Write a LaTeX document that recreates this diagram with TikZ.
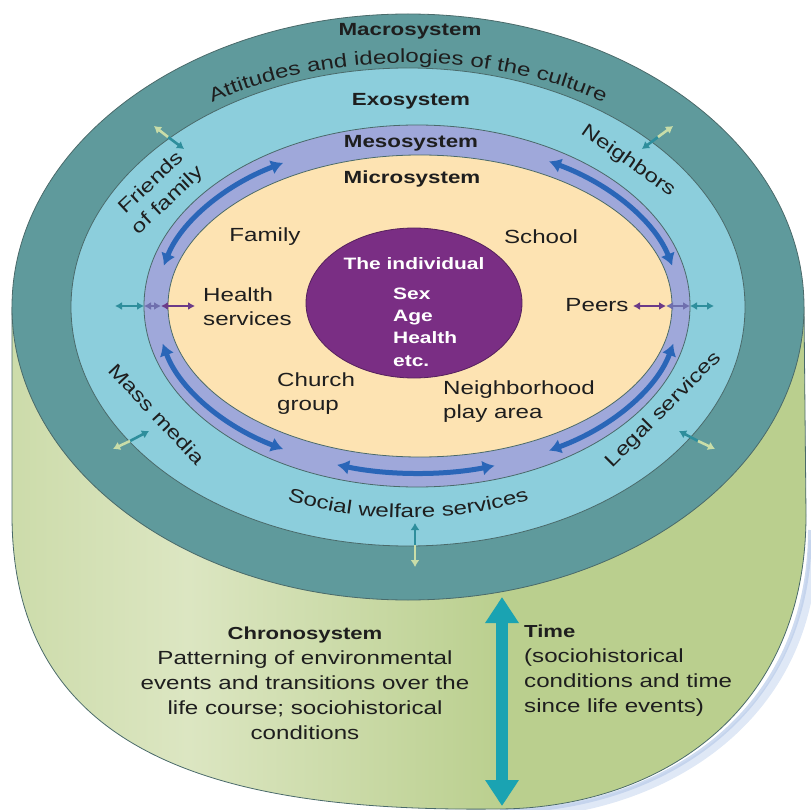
\documentclass[tikz,border=0pt]{standalone}
\usepackage{fontspec}
\setmainfont{Liberation Sans}[FakeStretch=1.27]
\usetikzlibrary{arrows.meta,decorations.text}
\definecolor{macroC}{HTML}{5F9A9C}
\definecolor{exoC}{HTML}{8CCEDC}
\definecolor{mesoC}{HTML}{9FA8DA}
\definecolor{microC}{HTML}{FDE3B2}
\definecolor{indivC}{HTML}{7A2E84}
\definecolor{arrowC}{HTML}{2A66B8}
\definecolor{timeC}{HTML}{1AA3B2}
\definecolor{edgeC}{HTML}{4A6A6A}
\definecolor{txtC}{HTML}{1E1E1E}
\definecolor{tealA}{HTML}{2E8E9C}
\definecolor{paleA}{HTML}{C9DDA8}
\definecolor{purpA}{HTML}{6B3A88}
\definecolor{lavA}{HTML}{6F6FAE}
\definecolor{gA}{HTML}{A3BC74}
\definecolor{gB}{HTML}{DCE6C2}
\definecolor{gC}{HTML}{BACF8E}
\definecolor{gD}{HTML}{A0BC68}
\definecolor{shadowC}{HTML}{B9CCEA}
\pgfdeclarehorizontalshading{cylshade}{100bp}{color(0bp)=(gA); color(12bp)=(gC); color(36bp)=(gB); color(56bp)=(gC); color(92bp)=(gC); color(100bp)=(gD)}
\tikzset{
  ring/.style={draw=edgeC, line width=0.8pt},
  lbl/.style={text=txtC, font=\fontsize{19}{24}\selectfont, inner sep=0pt},
  sys/.style={text=txtC, font=\bfseries\fontsize{17.6}{22}\selectfont, inner sep=0pt},
  chron/.style={text=txtC, font=\fontsize{19}{25}\selectfont, inner sep=0pt},
  indiv/.style={text=white, font=\bfseries\fontsize{16.5}{22.3}\selectfont, inner sep=0pt},
  mesoarrow/.style={draw=arrowC, line width=5pt, {Latex[length=12pt,width=15pt]}-{Latex[length=12pt,width=15pt]}},
  tinyarr/.style={line width=2.6pt, -{Latex[length=7pt,width=9pt]}},
  tinydbl/.style={line width=2.4pt, {Latex[length=7pt,width=8pt]}-{Latex[length=7pt,width=8pt]}},
  timearrow/.style={draw=timeC, line width=12pt, {Triangle[length=26pt,width=32pt]}-{Triangle[length=26pt,width=32pt]}}
}
\begin{document}
\begin{tikzpicture}[x=1pt,y=-1pt]
\useasboundingbox (0,0) rectangle (811,810);
\coordinate (oc) at (408,307);
\coordinate (mc) at (418,306);
% soft shadow at the lower right
\draw[shadowC, line width=9pt, opacity=0.45] (505,814) .. controls (655,814) and (813,724) .. (813,540);
\draw[shadowC, line width=4pt, opacity=0.7] (500,811) .. controls (652,811) and (810,722) .. (810,530);
% cylinder side
\shade[shading=cylshade] (12,307) -- (12,515) .. controls (12,760) and (230,812) .. (497,809) .. controls (650,809) and (806,720) .. (806,515) -- (804,307) -- cycle;
\draw[edgeC, line width=0.8pt] (12,307) -- (12,515) .. controls (12,760) and (230,812) .. (497,809) .. controls (650,809) and (806,720) .. (806,515) -- (804,307);
% rings
\draw[ring, fill=macroC] (oc) ellipse [x radius=396, y radius=293];
\draw[ring, fill=exoC] (oc) ellipse [x radius=337, y radius=239];
\draw[ring, fill=mesoC] (417,306) ellipse [x radius=273, y radius=181];
\draw[ring, fill=microC] (420,306) ellipse [x radius=252, y radius=151];
\draw[ring, draw=indivC!70!black, fill=indivC] (414,303) ellipse [x radius=108, y radius=75];
% meso arrows
\draw[mesoarrow] ([shift={(-121:262 and 167)}]mc) arc[start angle=-121, end angle=-166, x radius=262, y radius=167];
\draw[mesoarrow] ([shift={(-60:262 and 167)}]mc) arc[start angle=-60, end angle=-14, x radius=262, y radius=167];
\draw[mesoarrow] ([shift={(167:262 and 167)}]mc) arc[start angle=167, end angle=121, x radius=262, y radius=167];
\draw[mesoarrow] ([shift={(13:262 and 167)}]mc) arc[start angle=13, end angle=60, x radius=262, y radius=167];
\draw[mesoarrow] ([shift={(108:262 and 167)}]mc) arc[start angle=108, end angle=73, x radius=262, y radius=167];
% horizontal small arrows (left)
\coordinate (hl1) at (115,306); \coordinate (hl2) at (144,306);
\coordinate (hl3) at (161,306); \coordinate (hl4) at (195,306);
\draw[tinydbl, tealA] (hl1) -- (hl2);
\draw[tinydbl, lavA] (hl2) -- (hl3);
\draw[tinydbl, purpA] (hl3) -- (hl4);
% horizontal small arrows (right)
\coordinate (hr1) at (633,306); \coordinate (hr2) at (666,306);
\coordinate (hr3) at (690,306); \coordinate (hr4) at (714,306);
\draw[tinydbl, purpA] (hr1) -- (hr2);
\draw[tinydbl, lavA] (hr2) -- (hr3);
\draw[tinydbl, tealA] (hr3) -- (hr4);
% crossing arrows exo/macro
\coordinate (fo) at (154,126); \coordinate (fm) at (168,137); \coordinate (fi) at (184,149);
\draw[tinyarr, tealA] (fm) -- (fi); \draw[tinyarr, paleA] (fm) -- (fo);
\coordinate (no) at (673,126); \coordinate (nm) at (658,137); \coordinate (ni) at (642,149);
\draw[tinyarr, tealA] (nm) -- (ni); \draw[tinyarr, paleA] (nm) -- (no);
\coordinate (mo) at (113,449); \coordinate (mm) at (130,441); \coordinate (mi) at (149,431);
\draw[tinyarr, tealA] (mm) -- (mi); \draw[tinyarr, paleA] (mm) -- (mo);
\coordinate (lo) at (715,449); \coordinate (lm) at (698,441); \coordinate (li) at (679,431);
\draw[tinyarr, tealA] (lm) -- (li); \draw[tinyarr, paleA] (lm) -- (lo);
\coordinate (so) at (415,567); \coordinate (sm) at (415,545); \coordinate (si) at (415,523);
\draw[tinyarr, tealA] (sm) -- (si); \draw[tinyarr, paleA] (sm) -- (so);
% time arrow
\coordinate (tt) at (502,597); \coordinate (tb) at (502,806);
\draw[timearrow] (tt) -- (tb);
% system labels
\node[sys] (macro) at (410,31) {Macrosystem};
\node[sys] (exo) at (411,101) {Exosystem};
\node[sys] (meso) at (411,143) {Mesosystem};
\node[sys] (micro) at (412,179) {Microsystem};
\path[decorate, decoration={text along path, text align=center, text color=txtC,
  text={|\fontsize{19}{22}\selectfont|Attitudes and ideologies of the culture}}]
  ([shift={(-158:360 and 244)}]oc) arc[start angle=-158, end angle=-22, x radius=360, y radius=244];
\path[decorate, decoration={text along path, text align=center, text color=txtC,
  text={|\fontsize{19}{22}\selectfont|Social welfare services}}]
  ([shift={(130:300 and 211)}]oc) arc[start angle=130, end angle=50, x radius=300, y radius=211];
% exo labels
\node[lbl, rotate=43, align=center] (friends) at (160,192) {Friends\\of family};
\node[lbl, rotate=-35] (neigh) at (628,161) {Neighbors};
\node[lbl, rotate=-47] (mass) at (157,414) {Mass media};
\node[lbl, rotate=45] (legal) at (664,410) {Legal services};
% micro labels
\node[lbl] (family) at (265,237) {Family};
\node[lbl] (school) at (541,237) {School};
\node[lbl, anchor=west, align=left] (health) at (203,307) {Health\\services};
\node[lbl] (peers) at (597,305) {Peers};
\node[lbl, anchor=west, align=left] (church) at (277,394) {Church\\group};
\node[lbl, anchor=west, align=left] (play) at (443,402) {Neighborhood\\play area};
% individual
\node[indiv] (indt) at (414,264) {The individual};
\node[indiv, anchor=west, align=left] (indl) at (393,327) {Sex\\Age\\Health\\etc.};
% chronosystem
\node[chron, align=center] (chrono) at (305,683) {{\bfseries\fontsize{17.4}{25}\selectfont Chronosystem}\\Patterning of environmental\\events and transitions over the\\life course; sociohistorical\\conditions};
\node[chron, anchor=west, align=left] (time) at (524,671) {{\bfseries\fontsize{17.4}{25}\selectfont Time}\\(sociohistorical\\conditions and time\\since life events)};
\end{tikzpicture}
\end{document}
